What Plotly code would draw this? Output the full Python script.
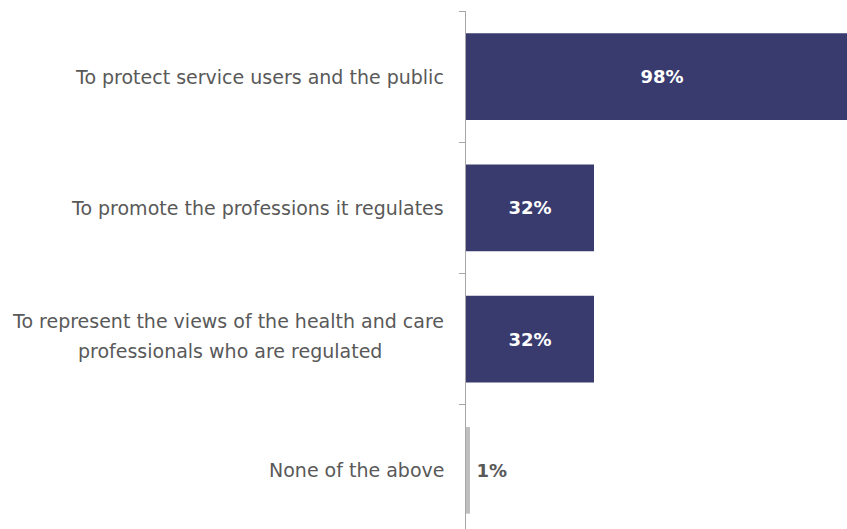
import plotly.graph_objects as go

categories = [
    "To protect service users and the public",
    "To promote the professions it regulates",
    "To represent the views of the health and care<br>professionals who are regulated",
    "None of the above",
]
values = [98, 32, 32, 1]
bar_colors = ["#393B6F", "#393B6F", "#393B6F", "#BFBFBF"]
text_colors = ["#FFFFFF", "#FFFFFF", "#FFFFFF", "#595959"]
text_positions = ["inside", "inside", "inside", "outside"]
text_templates = ["%{x}%", "%{x}%", "%{x}%", "\u2009%{x}%"]

LABEL_FONT = dict(family="DejaVu Sans", size=19, color="#595959")

fig = go.Figure(
    go.Bar(
        x=values,
        y=categories,
        orientation="h",
        marker=dict(color=bar_colors, line=dict(width=0)),
        width=0.66,
        texttemplate=text_templates,
        textposition=text_positions,
        insidetextanchor="middle",
        textangle=0,
        textfont=dict(family="DejaVu Sans", size=18, color=text_colors, weight="bold"),
        cliponaxis=True,
        hoverinfo="skip",
    )
)

# Category labels drawn as annotations (centred multi-line with wider spacing)
plot_w = 847 - 466
label_right = -20 / plot_w          # just left of the axis
for cat in categories:
    lines = cat.split("<br>")
    if len(lines) == 1:
        fig.add_annotation(
            x=label_right, xref="paper", y=cat, yref="y",
            text=lines[0], showarrow=False, xanchor="right", yanchor="middle",
            font=LABEL_FONT,
        )
    else:
        first_w = 432  # rendered width of first line box (px)
        centre = label_right - (first_w / 2) / plot_w
        shifts = [18, -12]
        for i, ln in enumerate(lines):
            fig.add_annotation(
                x=label_right if i == 0 else centre, xref="paper", y=cat, yref="y",
                text=ln, showarrow=False,
                xanchor="right" if i == 0 else "center", yanchor="middle",
                yshift=shifts[i], font=LABEL_FONT,
            )

fig.update_layout(
    width=847,
    height=529,
    margin=dict(l=466, r=0, t=11, b=0),
    paper_bgcolor="white",
    plot_bgcolor="white",
    showlegend=False,
    font=LABEL_FONT,
)

fig.update_xaxes(
    range=[0, 95.25],
    visible=False,
    showgrid=False,
    zeroline=False,
)

fig.update_yaxes(
    type="category",
    categoryorder="array",
    categoryarray=categories,
    range=[3.447, -0.5],
    showline=True,
    linecolor="#A6A6A6",
    linewidth=1,
    ticks="outside",
    tickson="boundaries",
    ticklen=6,
    tickcolor="#A6A6A6",
    showgrid=False,
    zeroline=False,
    showticklabels=False,
)

fig.write_html(
    "out.html",
    config={"displayModeBar": False},
    post_script="document.body.style.margin='0';document.body.style.overflow='hidden';",
)
